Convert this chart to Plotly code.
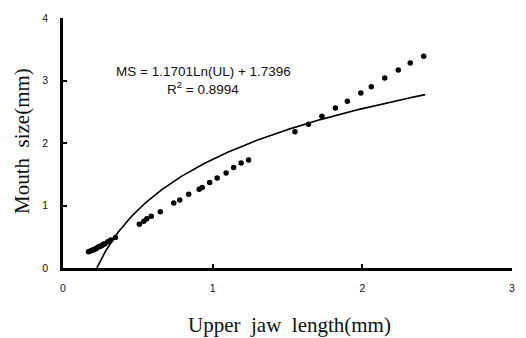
import numpy as np
import plotly.graph_objects as go

ul_small = [0.17, 0.18, 0.19, 0.20, 0.21, 0.22, 0.23, 0.24, 0.25, 0.26, 0.27, 0.28, 0.30, 0.32, 0.35]
ms_small = [0.26, 0.27, 0.28, 0.29, 0.30, 0.31, 0.33, 0.34, 0.35, 0.36, 0.38, 0.39, 0.42, 0.45, 0.49]

ul_mid = [0.51, 0.54, 0.56, 0.59, 0.65, 0.74, 0.78, 0.84, 0.91, 0.93, 0.98, 1.03, 1.09, 1.14, 1.19, 1.24]
ms_mid = [0.70, 0.75, 0.79, 0.83, 0.90, 1.04, 1.09, 1.18, 1.26, 1.29, 1.37, 1.44, 1.52, 1.61, 1.68, 1.73]

ul_big = [1.55, 1.64, 1.73, 1.82, 1.90, 1.99, 2.06, 2.15, 2.24, 2.32, 2.41]
ms_big = [2.18, 2.30, 2.43, 2.56, 2.67, 2.80, 2.90, 3.04, 3.17, 3.28, 3.39]

# Logarithmic trendline given on the chart
coef_a = 1.1701
coef_b = 1.7396
fit_start = 0.2263
fit_end = 2.42

x_ticks = [0, 1, 2, 3]
y_ticks = [0, 1, 2, 3, 4]

ul_all = ul_small + ul_mid + ul_big
ms_all = ms_small + ms_mid + ms_big

xf = np.linspace(fit_start, fit_end, 200)
yf = coef_a * np.log(xf) + coef_b

fig = go.Figure()
fig.add_trace(go.Scatter(x=xf, y=yf, mode="lines",
                         line=dict(color="black", width=1.6), hoverinfo="skip"))
fig.add_trace(go.Scatter(x=ul_all, y=ms_all, mode="markers",
                         marker=dict(color="black", size=5.5)))

L, T, PW, PH = 63, 18, 449, 250

def px(xp):
    return (xp - L) / PW

def py(yp):
    return (T + PH - yp) / PH

fig.update_layout(
    width=526, height=338,
    margin=dict(l=L, r=526 - L - PW, t=T, b=338 - T - PH, autoexpand=False),
    paper_bgcolor="white", plot_bgcolor="white",
    showlegend=False,
    font=dict(family="Liberation Sans, Arial", color="#111"),
    xaxis=dict(range=[0, 3], tickvals=x_ticks, ticks="inside", ticklen=4, tickwidth=2,
               tickcolor="black", showline=True, linecolor="black", linewidth=2.5,
               showgrid=False, zeroline=False, tickfont=dict(size=10.5), ticklabelstandoff=9,
               automargin=False),
    yaxis=dict(range=[0, 4], tickvals=y_ticks, ticks="inside", ticklen=4, tickwidth=2,
               tickcolor="black", showline=True, linecolor="black", linewidth=2.5,
               showgrid=False, zeroline=False, tickfont=dict(size=10.5), ticklabelstandoff=10,
               automargin=False),
    annotations=[
        dict(text="MS = 1.1701Ln(UL) + 1.7396", xref="paper", yref="paper",
             x=px(203), y=py(71), xanchor="center", yanchor="middle", showarrow=False,
             font=dict(size=13.5, family="Liberation Sans, Arial", color="#111")),
        dict(text="R<sup>2</sup> = 0.8994", xref="paper", yref="paper",
             x=px(203), y=py(88), xanchor="center", yanchor="middle", showarrow=False,
             font=dict(size=13.5, family="Liberation Sans, Arial", color="#111")),
        dict(text="Upper\u00a0 jaw\u00a0 length(mm)", xref="paper", yref="paper",
             x=px(289), y=py(325), xanchor="center", yanchor="middle", showarrow=False,
             font=dict(size=21, family="Liberation Serif, Times New Roman", color="#111")),
        dict(text="Mouth\u00a0 size(mm)", xref="paper", yref="paper", textangle=-90,
             x=px(22), y=py(141), xanchor="center", yanchor="middle", showarrow=False,
             font=dict(size=21, family="Liberation Serif, Times New Roman", color="#111")),
    ],
)

fig.write_html("out.html", config={"displayModeBar": False},
               post_script="document.body.style.margin='0';document.body.style.overflow='hidden';")
